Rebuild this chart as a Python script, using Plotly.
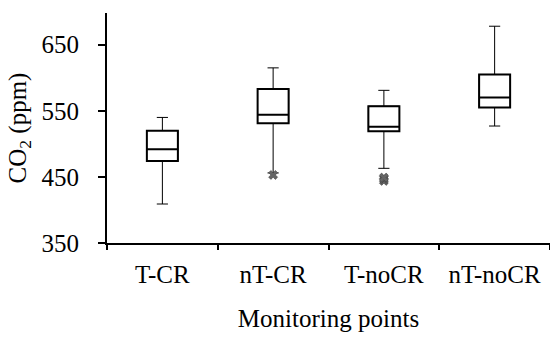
import plotly.graph_objects as go

categories = ["T-CR", "nT-CR", "T-noCR", "nT-noCR"]
q1 = [474, 531, 519, 555]
median = [492, 544, 526, 570]
q3 = [520, 583, 557, 605]
lowerfence = [409, 456, 463, 527]
upperfence = [540, 615, 581, 678]
outlier_cat = ["nT-CR", "T-noCR", "T-noCR", "T-noCR"]
outlier_val = [453, 444, 447, 449]

font = dict(family="Liberation Serif", size=25, color="black")

fig = go.Figure()
# whiskers (thin)
fig.add_trace(go.Box(
    x=categories, q1=q1, median=median, q3=q3,
    lowerfence=lowerfence, upperfence=upperfence,
    fillcolor="white", line=dict(color="black", width=1),
    whiskerwidth=0.36, boxpoints=False, showlegend=False, hoverinfo="skip",
))
# boxes (thick)
fig.add_trace(go.Box(
    x=categories, q1=q1, median=median, q3=q3,
    lowerfence=q1, upperfence=q3,
    fillcolor="white", line=dict(color="black", width=2),
    whiskerwidth=0, boxpoints=False, showlegend=False, hoverinfo="skip",
))
fig.add_trace(go.Scatter(
    x=outlier_cat, y=outlier_val, mode="markers",
    marker=dict(symbol="x", size=8, color="#666666", line=dict(color="#333333", width=0.5)),
    showlegend=False, hoverinfo="skip",
))

fig.update_layout(
    width=550, height=343,
    margin=dict(l=107, r=0, t=13, b=100),
    paper_bgcolor="white", plot_bgcolor="white",
    font=font, boxmode="overlay", boxgap=0.6,
)
fig.update_xaxes(
    type="category", categoryorder="array", categoryarray=categories,
    range=[-0.5, 3.5],
    showline=True, linecolor="black", linewidth=2, showgrid=False, zeroline=False,
    ticks="outside", ticklen=5, tickwidth=2, tickcolor="black", tickson="boundaries",
    ticklabelstandoff=8,
    title=dict(text="Monitoring points", font=font, standoff=22),
)
fig.update_yaxes(
    range=[350, 698], tickvals=[350, 450, 550, 650],
    showline=True, linecolor="black", linewidth=2, showgrid=False, zeroline=False,
    ticks="outside", ticklen=7, tickwidth=2, tickcolor="black", ticklabelstandoff=14,
    title=dict(text="CO<sub>2</sub> (ppm)", font=font, standoff=8),
)

fig.write_html("out.html")
